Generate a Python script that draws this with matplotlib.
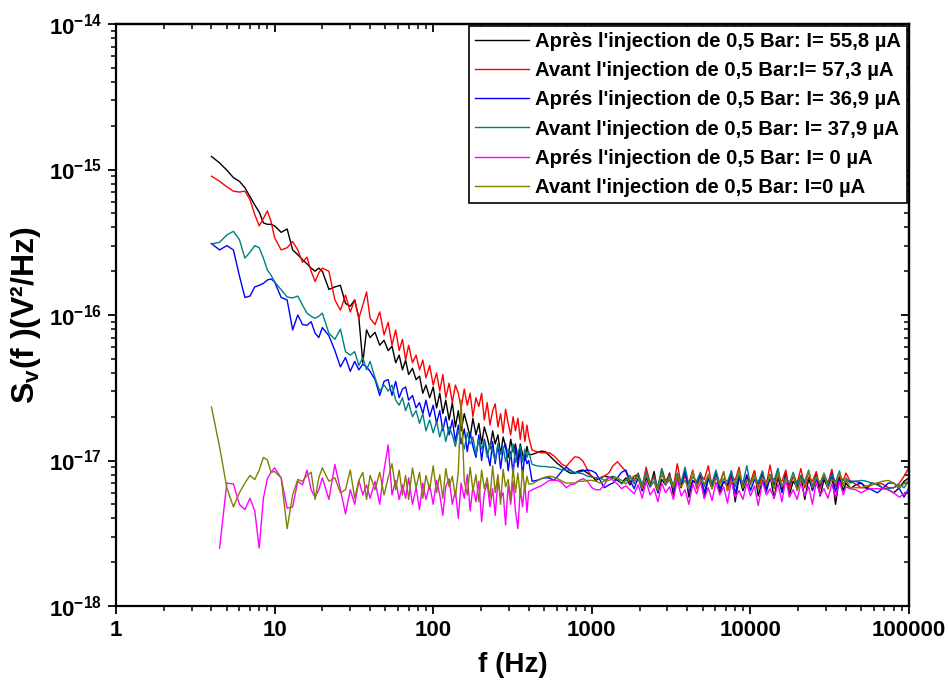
# %%
# Imports
import matplotlib
matplotlib.use("Agg")
import matplotlib.pyplot as plt
import numpy as np
from matplotlib.ticker import FixedLocator, FuncFormatter, LogLocator, NullFormatter

plt.rcParams["font.family"] = ["Liberation Sans", "DejaVu Sans"]
plt.rcParams["mathtext.fontset"] = "custom"
plt.rcParams["mathtext.rm"] = "Liberation Sans:bold"
plt.rcParams["mathtext.bf"] = "Liberation Sans:bold"

# %%
# Data (S_v in units of 1e-17 V^2/Hz)
freq_low = [4, 4.5, 5, 5.5, 6, 6.5, 7, 7.5, 8, 8.5, 9, 9.5, 10,
            11, 12, 13, 14, 15, 16, 17, 18, 19, 20,
            22, 24, 26, 28, 30, 32, 34, 36, 38, 40,
            43, 46, 49, 52, 55, 58, 61, 64, 67, 70,
            74, 78, 82, 86, 90,
            95, 100, 105, 110, 115, 120,
            126, 132, 138, 144, 150,
            157, 164, 171, 178,
            186, 194, 202,
            210, 219, 228, 237, 246,
            256, 266, 276, 286,
            297, 308, 319, 330,
            342, 354, 366, 378, 390,
            400]
freq_mid = [420, 450, 480, 510, 540, 575, 610, 650, 690, 730,
            780, 830, 880, 940, 1000, 1060, 1130, 1200, 1280, 1360,
            1450, 1540, 1640, 1740, 1850]
freq_band = [1960, 2080, 2200, 2330, 2470, 2610, 2760, 2920, 3090, 3270,
             3460, 3660, 3870, 4090, 4330, 4580, 4840, 5120, 5420, 5730,
             6060, 6410, 6780, 7170, 7580, 8020, 8480, 8970, 9490, 10000,
             10600, 11200, 11900, 12600, 13300, 14100, 14900, 15800, 16700, 17600,
             18600, 19700, 20800, 22000, 23300, 24600, 26000, 27500, 29100, 30800,
             32600, 34400, 36400, 38500, 40000]
freq_top = [42500, 46000, 50000, 54000, 58000, 63000, 68000, 74000, 80000,
            87000, 93000, 100000]

black = [123, 111, 99, 88, 83, 75, 65, 57, 51, 43, 42, 42, 41,
         37, 39, 28, 26, 24, 22.5, 21, 20, 21, 20,
         15, 15.6, 16, 12, 11.5, 12.7, 9.5, 4.7, 7.9, 7,
         7.6, 6.2, 6.7, 5.7, 6.1, 4.7, 5.3, 4.2, 4.9, 3.9,
         4.3, 3.6, 3.8, 2.9, 3.3,
         2.7, 3.2, 2.3, 2.9, 2.1, 2.6,
         1.9, 2.5, 1.7, 2.2, 1.6,
         2.1, 1.75, 1.45, 1.95,
         1.5, 1.8, 1.3,
         1.7, 1.45, 1.2, 1.6, 1.3,
         1.5, 1.1, 1.45, 1.25,
         1.05, 1.4, 1.15, 1.3,
         1.0, 1.3, 1.1, 1.0, 1.25,
         1.1,
         1.10, 1.13, 1.16, 1.15, 1.08, 1.01, 0.95, 0.90, 0.85, 0.82,
         0.82, 0.85, 0.86, 0.82, 0.78, 0.73, 0.76, 0.78, 0.77, 0.76,
         0.73, 0.70, 0.76, 0.68, 0.78,
         0.80, 0.62, 0.76, 0.66, 0.84, 0.60, 0.74, 0.68, 0.82, 0.58,
         0.75, 0.65, 0.86, 0.56, 0.72, 0.70, 0.80, 0.55, 0.76, 0.64,
         0.83, 0.60, 0.72, 0.67, 0.81, 0.52, 0.78, 0.62, 0.74, 0.69,
         0.85, 0.57, 0.73, 0.64, 0.80, 0.55, 0.77, 0.61, 0.84, 0.58,
         0.72, 0.66, 0.79, 0.54, 0.75, 0.63, 0.82, 0.57, 0.74, 0.65,
         0.80, 0.50, 0.76, 0.62, 0.70,
         0.64, 0.68, 0.70, 0.64, 0.70, 0.69, 0.65, 0.63, 0.60, 0.65, 0.72, 0.76]

red = [90, 83, 76, 71, 70, 71, 62, 49, 41, 46, 52, 44, 34,
       28, 29, 32, 28, 23, 25, 20, 17, 19.5, 21,
       20, 12.7, 10.8, 13.7, 10.5, 12.7, 9.5, 11.7, 14.4, 9.5,
       8.6, 10.5, 7.3, 8.9, 6.2, 7.9, 5.7, 6.8, 4.9, 6.2,
       4.7, 5.3, 4.2, 4.9, 3.7,
       4.5, 3.3, 4.0, 3.0, 3.9, 2.7,
       3.4, 2.5, 3.3, 2.9, 2.3,
       3.1, 2.4, 2.9, 2.0,
       2.7, 2.35, 2.9,
       1.9, 2.5, 1.75, 2.2, 2.45,
       1.7, 2.1, 1.55, 2.25,
       1.8, 1.5, 2.0, 1.6,
       1.95, 1.4, 1.85, 1.35, 1.75,
       1.45,
       1.18, 1.15, 1.13, 1.13, 1.13, 1.08, 1.01, 0.94, 0.91, 0.98,
       1.06, 1.05, 0.99, 0.86, 0.77, 0.76, 0.76, 0.78, 0.82, 0.92,
       0.98, 0.91, 0.84, 0.70, 0.73,
       0.82, 0.66, 0.90, 0.70, 0.78, 0.64, 0.88, 0.72, 0.80, 0.66,
       0.95, 0.68, 0.78, 0.70, 0.86, 0.64, 0.80, 0.74, 0.92, 0.66,
       0.76, 0.70, 0.84, 0.62, 0.79, 0.73, 0.90, 0.65, 0.77, 0.71,
       0.85, 0.64, 0.80, 0.69, 0.93, 0.66, 0.76, 0.72, 0.86, 0.63,
       0.79, 0.70, 0.88, 0.65, 0.77, 0.72, 0.84, 0.64, 0.80, 0.70,
       0.87, 0.66, 0.78, 0.73, 0.82,
       0.72, 0.69, 0.65, 0.65, 0.68, 0.70, 0.69, 0.65, 0.65, 0.70, 0.78, 0.90]

blue = [31, 28, 30, 28, 18.6, 13.2, 13.5, 15.6, 16, 16.5, 17.4, 17.7, 16.9,
        13.2, 12.7, 7.9, 10, 8.6, 8.5, 9, 7.5, 7.0, 8.2,
        7.2, 5.7, 4.4, 5.1, 4.1, 4.8, 4.2, 4.6, 4.4, 4.1,
        3.6, 2.8, 3.5, 3.6, 2.8, 3.5, 2.7, 3.1, 3.2, 2.6,
        2.8, 2.3, 2.5, 2.1, 2.6,
        2.0, 2.4, 1.8, 2.2, 1.6, 2.0,
        1.5, 1.9, 1.35, 1.75, 1.3,
        1.65, 1.15, 1.55, 1.25,
        1.05, 1.5, 1.0,
        1.4, 1.15, 0.92, 1.35, 0.95,
        1.3, 0.88, 1.2, 1.3,
        0.85, 1.15, 0.8, 1.25,
        0.9, 1.2, 0.78, 1.1, 0.95,
        1.0,
        0.72, 0.73, 0.75, 0.76, 0.76, 0.73, 0.78, 0.85, 0.90, 0.86,
        0.82, 0.83, 0.85, 0.86, 0.85, 0.82, 0.73, 0.65, 0.68, 0.70,
        0.76, 0.83, 0.86, 0.73, 0.64,
        0.76, 0.62, 0.80, 0.66, 0.72, 0.60, 0.84, 0.68, 0.74, 0.63,
        0.79, 0.66, 0.86, 0.61, 0.73, 0.69, 0.82, 0.60, 0.75, 0.67,
        0.81, 0.64, 0.72, 0.68, 0.85, 0.59, 0.77, 0.66, 0.80, 0.62,
        0.74, 0.69, 0.83, 0.61, 0.76, 0.67, 0.88, 0.60, 0.73, 0.68,
        0.80, 0.63, 0.75, 0.70, 0.84, 0.62, 0.74, 0.67, 0.79, 0.64,
        0.82, 0.61, 0.76, 0.69, 0.72,
        0.72, 0.72, 0.70, 0.65, 0.63, 0.60, 0.64, 0.70, 0.70, 0.64, 0.56, 0.65]

teal = [30.8, 31.6, 35.5, 37.6, 33, 24.6, 27, 30, 29, 24.6, 20.4, 18.8, 16.9,
        14.9, 13.3, 13.1, 13.5, 11.7, 10.3, 9.8, 9.5, 9.8, 10.3,
        7.5, 6.8, 8.0, 5.6, 5.3, 5.6, 4.5, 5.1, 4.2, 4.8,
        3.7, 3.0, 3.3, 3.0, 3.3, 2.6, 2.4, 2.7, 2.2, 2.5,
        2.0, 2.2, 1.8, 2.1, 1.6,
        1.9, 1.55, 1.85, 1.45, 1.75, 1.35,
        1.7, 1.5, 1.25, 1.6, 1.4,
        1.2, 1.55, 1.3, 1.45,
        1.1, 1.4, 1.2,
        1.35, 1.05, 1.3, 1.15, 1.0,
        1.3, 1.1, 1.25, 0.98,
        1.2, 1.05, 1.3, 0.97,
        1.15, 1.25, 0.98, 1.2, 1.05,
        1.15,
        0.94, 0.92, 0.91, 0.91, 0.90, 0.90, 0.88, 0.86, 0.86, 0.85,
        0.83, 0.82, 0.81, 0.78, 0.77, 0.76, 0.76, 0.73, 0.76, 0.78,
        0.76, 0.69, 0.73, 0.79, 0.69,
        0.80, 0.68, 0.84, 0.70, 0.76, 0.66, 0.88, 0.70, 0.78, 0.67,
        0.82, 0.71, 0.90, 0.68, 0.77, 0.72, 0.83, 0.66, 0.79, 0.70,
        0.86, 0.69, 0.75, 0.72, 0.84, 0.66, 0.80, 0.70, 0.92, 0.68,
        0.78, 0.71, 0.85, 0.67, 0.80, 0.73, 0.88, 0.66, 0.77, 0.70,
        0.83, 0.68, 0.79, 0.72, 0.86, 0.67, 0.78, 0.70, 0.82, 0.69,
        0.80, 0.71, 0.85, 0.68, 0.76,
        0.70, 0.72, 0.73, 0.72, 0.70, 0.68, 0.65, 0.64, 0.65, 0.68, 0.65, 0.73]

magenta = [np.nan, 0.25, 0.70, 0.69, 0.50, 0.46, 0.55, 0.45, 0.25, 0.55, 0.75, 0.83, 0.89,
           0.76, 0.47, 0.48, 0.72, 0.68, 0.86, 0.63, 0.56, 0.63, 0.76,
           0.54, 0.94, 0.63, 0.43, 0.63, 0.5, 0.73, 0.58, 0.68, 0.55,
           0.72, 0.5, 0.86, 1.28, 0.58, 0.73, 0.54, 0.68, 0.55, 0.76,
           0.5, 0.65, 0.46, 0.7, 0.54,
           0.68, 0.5, 0.73, 0.58, 0.42, 0.66,
           0.75, 0.5, 0.62, 0.4, 0.7,
           0.55, 0.8, 0.45, 0.66,
           0.52, 0.72, 0.38,
           0.6, 0.7, 0.48, 0.64, 0.42,
           0.74, 0.55, 0.6, 0.36,
           0.68, 0.5, 0.72, 0.45,
           0.34, 0.64, 0.48, 0.7, 0.44,
           0.61,
           0.63, 0.65, 0.67, 0.70, 0.73, 0.73, 0.73, 0.70, 0.65, 0.68,
           0.69, 0.73, 0.75, 0.72, 0.65, 0.63, 0.63, 0.68, 0.77, 0.73,
           0.69, 0.64, 0.67, 0.63, 0.59,
           0.68, 0.55, 0.72, 0.58, 0.64, 0.52, 0.70, 0.60, 0.66, 0.54,
           0.74, 0.57, 0.63, 0.50, 0.69, 0.59, 0.72, 0.55, 0.65, 0.53,
           0.71, 0.58, 0.66, 0.51, 0.73, 0.56, 0.62, 0.54, 0.70, 0.57,
           0.67, 0.49, 0.72, 0.58, 0.64, 0.55, 0.69, 0.52, 0.75, 0.56,
           0.63, 0.54, 0.70, 0.57, 0.66, 0.50, 0.71, 0.58, 0.64, 0.55,
           0.69, 0.56, 0.72, 0.58, 0.66,
           0.64, 0.63, 0.60, 0.63, 0.64, 0.64, 0.64, 0.63, 0.60, 0.56, 0.59, 0.63]

olive = [2.33, 1.24, 0.65, 0.48, 0.60, 0.70, 0.79, 0.74, 0.86, 1.05, 1.01, 0.83, 0.84,
         0.76, 0.34, 0.58, 0.74, 0.72, 0.79, 0.83, 0.54, 0.76, 0.89,
         0.72, 0.76, 0.6, 0.63, 0.86, 0.55, 0.73, 0.83, 0.54, 0.79,
         0.63, 0.83, 0.58, 0.76, 0.95, 0.63, 0.86, 0.58, 0.79, 0.54,
         0.89, 0.65, 0.83, 0.55, 0.79,
         0.63, 0.92, 0.6, 0.8, 0.55, 0.88,
         0.66, 0.78, 0.56, 0.84, 2.6,
         0.72, 0.58, 0.9, 0.62,
         0.8, 0.52, 0.86,
         0.64, 0.76, 0.55, 0.92, 0.6,
         0.8, 0.5, 0.87, 0.66,
         0.74, 0.54, 0.9, 0.6,
         0.82, 0.56, 0.86, 0.62, 0.78,
         0.69,
         0.69, 0.72, 0.75, 0.77, 0.78, 0.77, 0.75, 0.72, 0.70, 0.70,
         0.70, 0.72, 0.72, 0.73, 0.73, 0.72, 0.70, 0.72, 0.73, 0.75,
         0.76, 0.73, 0.69, 0.75, 0.78,
         0.76, 0.64, 0.80, 0.67, 0.72, 0.62, 0.82, 0.68, 0.75, 0.65,
         0.79, 0.66, 0.73, 0.63, 0.84, 0.67, 0.74, 0.69, 0.80, 0.64,
         0.77, 0.68, 0.83, 0.62, 0.72, 0.70, 0.86, 0.65, 0.74, 0.68,
         0.81, 0.63, 0.76, 0.69, 0.78, 0.64, 0.83, 0.66, 0.73, 0.70,
         0.80, 0.62, 0.75, 0.68, 0.85, 0.65, 0.77, 0.69, 0.81, 0.64,
         0.74, 0.70, 0.82, 0.66, 0.75,
         0.65, 0.65, 0.65, 0.67, 0.68, 0.70, 0.72, 0.73, 0.70, 0.65, 0.69, 0.73]

labels = ["Après l'injection de 0,5 Bar: I= 55,8 µA",
          "Avant l'injection de 0,5 Bar:I= 57,3 µA",
          "Aprés l'injection de 0,5 Bar: I= 36,9 µA",
          "Avant l'injection de 0,5 Bar: I= 37,9 µA",
          "Aprés l'injection de 0,5 Bar: I= 0 µA",
          "Avant l'injection de 0,5 Bar: I=0 µA"]
colors = ["#000000", "#ff0000", "#0000ff", "#008080", "#ff00ff", "#808000"]

# %%
# Plot the spectra
freq = np.array(freq_low + freq_mid + freq_band + freq_top, dtype=float)

fig = plt.figure(figsize=(9.49, 6.86), dpi=100)
ax = fig.add_axes([0.1222, 0.1166, 0.8357, 0.8484])

for series, label, color in zip([black, red, blue, teal, magenta, olive], labels, colors):
    ax.plot(freq, np.array(series) * 1e-17, color=color, lw=1.0, label=label)

ax.set_xscale("log")
ax.set_yscale("log")
ax.set_xlim(1, 1e5)
ax.set_ylim(1e-18, 1e-14)

# Configure ticks: outward on bottom/left, inward on top/right
narrow = ["Liberation Sans Narrow", "Liberation Sans"]
ax.xaxis.set_major_locator(FixedLocator([1, 10, 100, 1000, 10000, 100000]))
ax.xaxis.set_major_formatter(FuncFormatter(lambda v, p: f"{int(round(v))}"))
ax.xaxis.set_minor_locator(LogLocator(base=10, subs=np.arange(2, 10), numticks=20))
ax.xaxis.set_minor_formatter(NullFormatter())
ax.yaxis.set_major_locator(FixedLocator([1e-18, 1e-17, 1e-16, 1e-15, 1e-14]))
ax.yaxis.set_major_formatter(FuncFormatter(
    lambda v, p: r"$\mathbf{10^{%d}}$" % int(round(np.log10(v)))))
ax.yaxis.set_minor_locator(LogLocator(base=10, subs=np.arange(2, 10), numticks=20))
ax.yaxis.set_minor_formatter(NullFormatter())

ax.tick_params(which="major", direction="out", length=6, width=1.3, pad=4)
ax.tick_params(which="minor", direction="out", length=3.5, width=1.1)
for lab in ax.get_xticklabels():
    lab.set_fontproperties({"family": narrow, "weight": "bold", "size": 16})
ax.tick_params(axis="y", labelsize=16)

top = ax.secondary_xaxis("top")
top.xaxis.set_major_locator(FixedLocator([1, 10, 100, 1000, 10000, 100000]))
top.xaxis.set_minor_locator(LogLocator(base=10, subs=np.arange(2, 10), numticks=20))
top.tick_params(which="major", direction="in", length=6, width=1.3, labeltop=False)
top.tick_params(which="minor", direction="in", length=3.5, width=1.1)
right = ax.secondary_yaxis("right")
right.yaxis.set_major_locator(FixedLocator([1e-18, 1e-17, 1e-16, 1e-15, 1e-14]))
right.yaxis.set_minor_locator(LogLocator(base=10, subs=np.arange(2, 10), numticks=20))
right.tick_params(which="major", direction="in", length=6, width=1.3, labelright=False)
right.tick_params(which="minor", direction="in", length=3.5, width=1.1)

for spine in list(ax.spines.values()) + [top.spines["top"], right.spines["right"]]:
    spine.set_linewidth(1.6)

# Axis labels
ax.set_xlabel("f (Hz)", fontsize=20, fontweight="bold", family=narrow, labelpad=8)
ax.set_ylabel(r"S$_\mathbf{v}$(f )(V²/Hz)", fontsize=23, fontweight="bold", labelpad=4)

# Legend
leg = ax.legend(loc="upper right", bbox_to_anchor=(1.0, 1.0), borderaxespad=0.1,
                prop={"weight": "bold", "size": 14.6}, fancybox=False,
                edgecolor="black", framealpha=1, handlelength=2.65,
                labelspacing=0.5, borderpad=0.3, handletextpad=0.3)
leg.get_frame().set_linewidth(1.2)

fig.savefig("out.png", dpi=100)
